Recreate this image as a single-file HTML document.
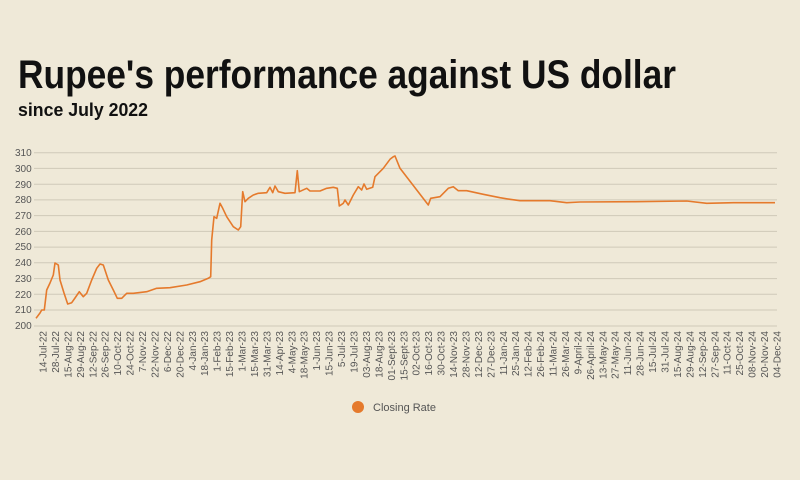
<!DOCTYPE html>
<html><head><meta charset="utf-8"><style>
html,body{margin:0;padding:0;background:#efe9d8;}
svg{display:block;font-family:"Liberation Sans",sans-serif;}
</style></head><body>
<svg width="800" height="480" viewBox="0 0 800 480" xmlns="http://www.w3.org/2000/svg">
<rect width="800" height="480" fill="#efe9d8"/>
<text x="18" y="88" font-size="40" font-weight="bold" fill="#111" textLength="658" lengthAdjust="spacingAndGlyphs">Rupee's performance against US dollar</text>
<text x="18" y="116" font-size="18" font-weight="bold" fill="#111" textLength="130" lengthAdjust="spacingAndGlyphs">since July 2022</text>
<g stroke="#cfc9b9" stroke-width="1">
<line x1="34" x2="777" y1="152.7" y2="152.7"/><line x1="34" x2="777" y1="168.4" y2="168.4"/><line x1="34" x2="777" y1="184.2" y2="184.2"/><line x1="34" x2="777" y1="199.9" y2="199.9"/><line x1="34" x2="777" y1="215.6" y2="215.6"/><line x1="34" x2="777" y1="231.4" y2="231.4"/><line x1="34" x2="777" y1="247.1" y2="247.1"/><line x1="34" x2="777" y1="262.8" y2="262.8"/><line x1="34" x2="777" y1="278.6" y2="278.6"/><line x1="34" x2="777" y1="294.3" y2="294.3"/><line x1="34" x2="777" y1="310" y2="310"/><line x1="34" x2="777" y1="326" y2="326"/>
</g>
<g font-size="10" fill="#555">
<text x="15" y="156">310</text><text x="15" y="172">300</text><text x="15" y="188">290</text><text x="15" y="203">280</text><text x="15" y="219">270</text><text x="15" y="235">260</text><text x="15" y="250">250</text><text x="15" y="266">240</text><text x="15" y="282">230</text><text x="15" y="298">220</text><text x="15" y="313">210</text><text x="15" y="329">200</text>
</g>
<g font-size="10" fill="#555" text-anchor="end">
<text transform="translate(46.5,331) rotate(-90)">14-Jul-22</text>
<text transform="translate(58.9,331) rotate(-90)">28-Jul-22</text>
<text transform="translate(71.4,331) rotate(-90)">15-Aug-22</text>
<text transform="translate(83.8,331) rotate(-90)">29-Aug-22</text>
<text transform="translate(96.3,331) rotate(-90)">12-Sep-22</text>
<text transform="translate(108.7,331) rotate(-90)">26-Sep-22</text>
<text transform="translate(121.1,331) rotate(-90)">10-Oct-22</text>
<text transform="translate(133.6,331) rotate(-90)">24-Oct-22</text>
<text transform="translate(146.0,331) rotate(-90)">7-Nov-22</text>
<text transform="translate(158.5,331) rotate(-90)">22-Nov-22</text>
<text transform="translate(170.9,331) rotate(-90)">6-Dec-22</text>
<text transform="translate(183.3,331) rotate(-90)">20-Dec-22</text>
<text transform="translate(195.8,331) rotate(-90)">4-Jan-23</text>
<text transform="translate(208.2,331) rotate(-90)">18-Jan-23</text>
<text transform="translate(220.7,331) rotate(-90)">1-Feb-23</text>
<text transform="translate(233.1,331) rotate(-90)">15-Feb-23</text>
<text transform="translate(245.5,331) rotate(-90)">1-Mar-23</text>
<text transform="translate(258.0,331) rotate(-90)">15-Mar-23</text>
<text transform="translate(270.4,331) rotate(-90)">31-Mar-23</text>
<text transform="translate(282.9,331) rotate(-90)">14-Apr-23</text>
<text transform="translate(295.3,331) rotate(-90)">4-May-23</text>
<text transform="translate(307.7,331) rotate(-90)">18-May-23</text>
<text transform="translate(320.2,331) rotate(-90)">1-Jun-23</text>
<text transform="translate(332.6,331) rotate(-90)">15-Jun-23</text>
<text transform="translate(345.1,331) rotate(-90)">5-Jul-23</text>
<text transform="translate(357.5,331) rotate(-90)">19-Jul-23</text>
<text transform="translate(369.9,331) rotate(-90)">03-Aug-23</text>
<text transform="translate(382.4,331) rotate(-90)">18-Aug-23</text>
<text transform="translate(394.8,331) rotate(-90)">01-Sept-23</text>
<text transform="translate(407.3,331) rotate(-90)">15-Sept-23</text>
<text transform="translate(419.7,331) rotate(-90)">02-Oct-23</text>
<text transform="translate(432.1,331) rotate(-90)">16-Oct-23</text>
<text transform="translate(444.6,331) rotate(-90)">30-Oct-23</text>
<text transform="translate(457.0,331) rotate(-90)">14-Nov-23</text>
<text transform="translate(469.5,331) rotate(-90)">28-Nov-23</text>
<text transform="translate(481.9,331) rotate(-90)">12-Dec-23</text>
<text transform="translate(494.3,331) rotate(-90)">27-Dec-23</text>
<text transform="translate(506.8,331) rotate(-90)">11-Jan-24</text>
<text transform="translate(519.2,331) rotate(-90)">25-Jan-24</text>
<text transform="translate(531.7,331) rotate(-90)">12-Feb-24</text>
<text transform="translate(544.1,331) rotate(-90)">26-Feb-24</text>
<text transform="translate(556.5,331) rotate(-90)">11-Mar-24</text>
<text transform="translate(569.0,331) rotate(-90)">26-Mar-24</text>
<text transform="translate(581.4,331) rotate(-90)">9-April-24</text>
<text transform="translate(593.9,331) rotate(-90)">26-April-24</text>
<text transform="translate(606.3,331) rotate(-90)">13-May-24</text>
<text transform="translate(618.7,331) rotate(-90)">27-May-24</text>
<text transform="translate(631.2,331) rotate(-90)">11-Jun-24</text>
<text transform="translate(643.6,331) rotate(-90)">28-Jun-24</text>
<text transform="translate(656.1,331) rotate(-90)">15-Jul-24</text>
<text transform="translate(668.5,331) rotate(-90)">31-Jul-24</text>
<text transform="translate(680.9,331) rotate(-90)">15-Aug-24</text>
<text transform="translate(693.4,331) rotate(-90)">29-Aug-24</text>
<text transform="translate(705.8,331) rotate(-90)">12-Sep-24</text>
<text transform="translate(718.3,331) rotate(-90)">27-Sep-24</text>
<text transform="translate(730.7,331) rotate(-90)">11-Oct-24</text>
<text transform="translate(743.1,331) rotate(-90)">25-Oct-24</text>
<text transform="translate(755.6,331) rotate(-90)">08-Nov-24</text>
<text transform="translate(768.0,331) rotate(-90)">20-Nov-24</text>
<text transform="translate(780.5,331) rotate(-90)">04-Dec-24</text>
</g>
<polyline fill="none" stroke="#e57a2c" stroke-width="1.6" stroke-linejoin="round" points="36,318.3 40,313 41.7,310 44.3,310 46.7,290 50,283 53.3,275 55,263 58.3,265 60,280 64,293 67.7,304 71.7,302.7 75,298 79.3,291.7 83.3,296.7 86.7,293.3 91.7,280 96.7,268.3 100,264 103.3,265 108.3,280 113.3,290 117.3,298.3 121.7,298.3 126.7,293.3 133.3,293.3 146.7,291.7 156.7,288.3 170,287.7 186.7,285 200,281.7 208.3,278.3 210.7,276.7 211.7,240 214,216.7 216.7,218.3 220,203.3 222.7,208.3 226.7,216.7 233.3,226.7 238.3,230 240.7,226.7 242.7,191.7 245,201.7 248.3,198.3 253.3,195 258.3,193.3 266.7,192.7 270,187.3 272.7,192.7 275,186 278.3,191.7 285,193.3 295,192.7 297.3,170.7 299.3,191.7 306.7,188.3 310,191 320,191 326.7,188.3 333.3,187.3 337.3,188.3 339.3,206 343.3,203.3 345,200 348.3,205 353.3,195 358.3,186.7 361.7,190 364,184 366.7,189.3 372.7,187.3 375,176.7 383.3,168.3 390,159.3 393.3,156.7 395,156 400,168.3 428.3,205 430.7,198.3 440,196.7 448.3,188.3 453.3,186.7 458.3,190.7 466.7,190.7 483.3,194.3 500,197.7 510,199.3 520,200.7 550,200.7 566.7,202.7 580,202 633.3,201.7 686.7,201 706.7,203.3 733.3,202.7 775,202.7"/>
<circle cx="358" cy="407" r="6" fill="#e57a2c"/>
<text x="373" y="411" font-size="11" fill="#555">Closing Rate</text>
</svg>
</body></html>
